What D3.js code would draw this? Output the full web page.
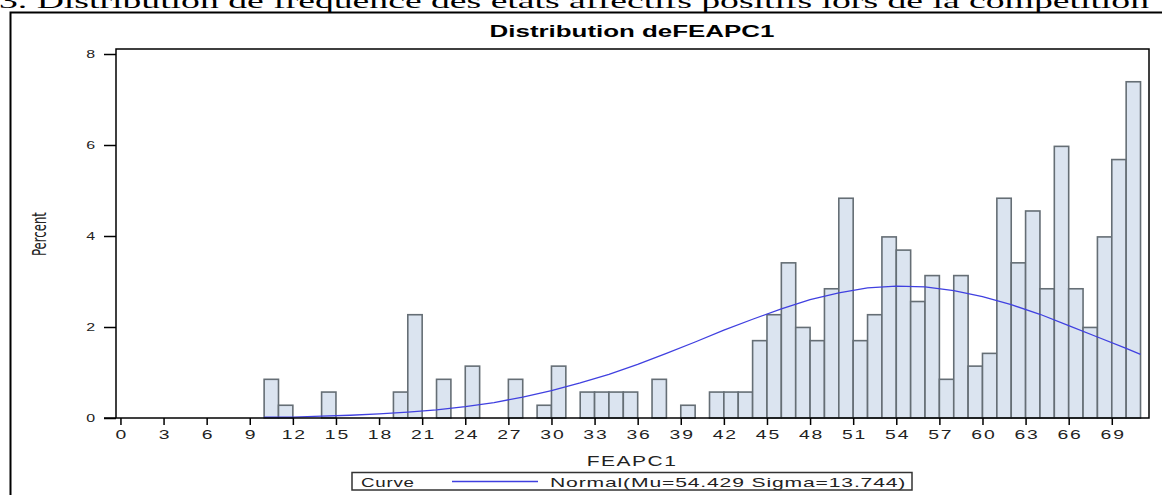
<!DOCTYPE html>
<html>
<head>
<meta charset="utf-8">
<script src="https://cdn.jsdelivr.net/npm/d3@7"></script>
<style>
  body { margin: 0; background: #fff; }
  svg { display: block; }
</style>
</head>
<body>
<div id="chart"></div>
<script>
// histogram bins (left edge of each 1-unit bin) and percent heights
var binStarts = [10, 11, 14, 19, 20, 22, 24, 27, 29, 30, 32, 33, 34, 35, 37, 39,
  41, 42, 43, 44, 45, 46, 47, 48, 49, 50, 51, 52, 53, 54, 55, 56, 57, 58, 59, 60,
  61, 62, 63, 64, 65, 66, 67, 68, 69, 70];
var percents = [0.85, 0.28, 0.57, 0.57, 2.27, 0.85, 1.14, 0.85, 0.28, 1.14, 0.57, 0.57, 0.57, 0.57, 0.85, 0.28,
  0.57, 0.57, 0.57, 1.70, 2.27, 3.41, 1.99, 1.70, 2.84, 4.83, 1.70, 2.27, 3.98, 3.69, 2.56, 3.13, 0.85, 3.13, 1.14, 1.42,
  4.83, 3.41, 4.55, 2.84, 5.97, 2.84, 1.99, 3.98, 5.68, 7.39];

// fitted normal curve
var curveX = [10, 12, 14, 16, 18, 20, 22, 24, 26, 28, 30, 32, 34, 36, 38, 40, 42, 44, 46, 48,
  50, 52, 54, 56, 58, 60, 62, 64, 66, 68, 70, 71];
var curveY = [0.02, 0.02, 0.04, 0.06, 0.09, 0.13, 0.18, 0.25, 0.34, 0.46, 0.60, 0.77, 0.96, 1.18, 1.42, 1.67,
  1.93, 2.17, 2.40, 2.60, 2.75, 2.86, 2.90, 2.88, 2.80, 2.67, 2.49, 2.28, 2.03, 1.78, 1.53, 1.40];

var xTicks = d3.range(0, 70, 3);
var yTicks = [0, 2, 4, 6, 8];

var svgWidth = 1162;
var svgHeight = 495;
var sansFont = "'Liberation Sans', Arial, sans-serif";

var svg = d3.select("#chart")
  .append("svg")
  .attr("width", svgWidth)
  .attr("height", svgHeight);

// the source image is stretched sideways, so texts get a horizontal scale
function wideText(px, py, sx, anchor, size, str) {
  return svg.append("text")
    .attr("transform", `translate(${px}, ${py}) scale(${sx}, 1)`)
    .attr("text-anchor", anchor)
    .style("font-family", sansFont)
    .style("font-size", size + "px")
    .attr("fill", "#222")
    .text(str);
}

// heading of the document, cut at the top
svg.append("text")
  .attr("x", -1)
  .attr("y", 8)
  .attr("textLength", 1150)
  .attr("lengthAdjust", "spacingAndGlyphs")
  .style("font-family", "'Liberation Serif', 'Times New Roman', serif")
  .style("font-size", "22px")
  .attr("fill", "#000")
  .text("3. Distribution de fréquence des états affectifs positifs lors de la compétition");

// outer frame
svg.append("path")
  .attr("d", "M10.5,495 V12.5 H1162")
  .attr("fill", "none")
  .attr("stroke", "#000")
  .attr("stroke-width", 2);

wideText(632, 37, 1.62, "middle", 16, "Distribution deFEAPC1")
  .style("font-weight", "bold")
  .attr("fill", "#000");

var plot = { left: 116, right: 1149, top: 49, bottom: 418 };

var x = d3.scaleLinear()
  .domain([-0.31, 71.59])
  .range([plot.left, plot.right]);

var y = d3.scaleLinear()
  .domain([0, 8.11])
  .range([plot.bottom, plot.top]);

var bins = binStarts.map(function(s, i) { return { start: s, pct: percents[i] }; });

// bars
svg.append("g")
  .selectAll("rect")
  .data(bins)
  .enter()
  .append("rect")
  .attr("x", d => x(d.start))
  .attr("y", d => y(d.pct))
  .attr("width", d => x(d.start + 1) - x(d.start))
  .attr("height", d => y(0) - y(d.pct))
  .attr("fill", "#dbe4f0")
  .attr("stroke", "#656e75")
  .attr("stroke-width", 1.6);

// normal curve
var pts = curveX.map(function(v, i) { return [v, curveY[i]]; });
svg.append("path")
  .datum(pts)
  .attr("fill", "none")
  .attr("stroke", "#4040e0")
  .attr("stroke-width", 1.3)
  .attr("d", d3.line().x(d => x(d[0])).y(d => y(d[1])));

// plot frame
svg.append("rect")
  .attr("x", plot.left)
  .attr("y", plot.top)
  .attr("width", plot.right - plot.left)
  .attr("height", plot.bottom - plot.top)
  .attr("fill", "none")
  .attr("stroke", "#000")
  .attr("stroke-width", 1.5);

// axes
var bottomAxis = d3.axisBottom(x).tickValues(xTicks).tickSize(7).tickPadding(5);
var leftAxis = d3.axisLeft(y).tickValues(yTicks).tickSize(12);

var xg = svg.append("g")
  .attr("transform", `translate(0, ${plot.bottom})`)
  .call(bottomAxis);
var yg = svg.append("g")
  .attr("transform", `translate(${plot.left}, 0)`)
  .call(leftAxis);

[xg, yg].forEach(function(g) {
  g.select(".domain").remove();
  g.selectAll("line").attr("stroke", "#000").attr("stroke-width", 1.5);
  g.selectAll("text")
    .attr("fill", "#222")
    .style("font-family", sansFont);
});
xg.selectAll("text")
  .style("font-size", "12.5px")
  .style("letter-spacing", "1.2px")
  .attr("x", 0.6)
  .attr("transform", "scale(1.55, 1)");
yg.selectAll("text")
  .style("font-size", "11px")
  .attr("x", -21 / 1.45)
  .attr("transform", "scale(1.45, 1)");

// y tick marks sit left of the axis; extend x axis line slightly left
svg.append("line")
  .attr("x1", plot.left - 12).attr("x2", plot.left)
  .attr("y1", plot.bottom).attr("y2", plot.bottom)
  .attr("stroke", "#000").attr("stroke-width", 1.5);

// axis labels
wideText(632, 466, 1.5, "middle", 14, "FEAPC1")
  .style("letter-spacing", "1px");

svg.append("text")
  .attr("transform", "translate(46, 234) scale(1.45, 1) rotate(-90)")
  .attr("text-anchor", "middle")
  .style("font-family", "'Liberation Sans Narrow', 'DejaVu Sans Condensed', sans-serif")
  .style("font-size", "13px")
  .attr("fill", "#222")
  .text("Percent");

// legend
var legend = svg.append("g");
legend.append("rect")
  .attr("x", 352)
  .attr("y", 472.5)
  .attr("width", 560)
  .attr("height", 17.5)
  .attr("fill", "#fff")
  .attr("stroke", "#333")
  .attr("stroke-width", 1.5);
wideText(361, 486.5, 1.5, "start", 12.5, "Curve")
  .style("letter-spacing", "0.5px");
legend.append("line")
  .attr("x1", 452).attr("x2", 538)
  .attr("y1", 481.5).attr("y2", 481.5)
  .attr("stroke", "#4040e0")
  .attr("stroke-width", 1.3);
wideText(550, 486.5, 1.69, "start", 12.5, "Normal(Mu=54.429 Sigma=13.744)")
  .style("letter-spacing", "0.5px");
</script>
</body>
</html>
